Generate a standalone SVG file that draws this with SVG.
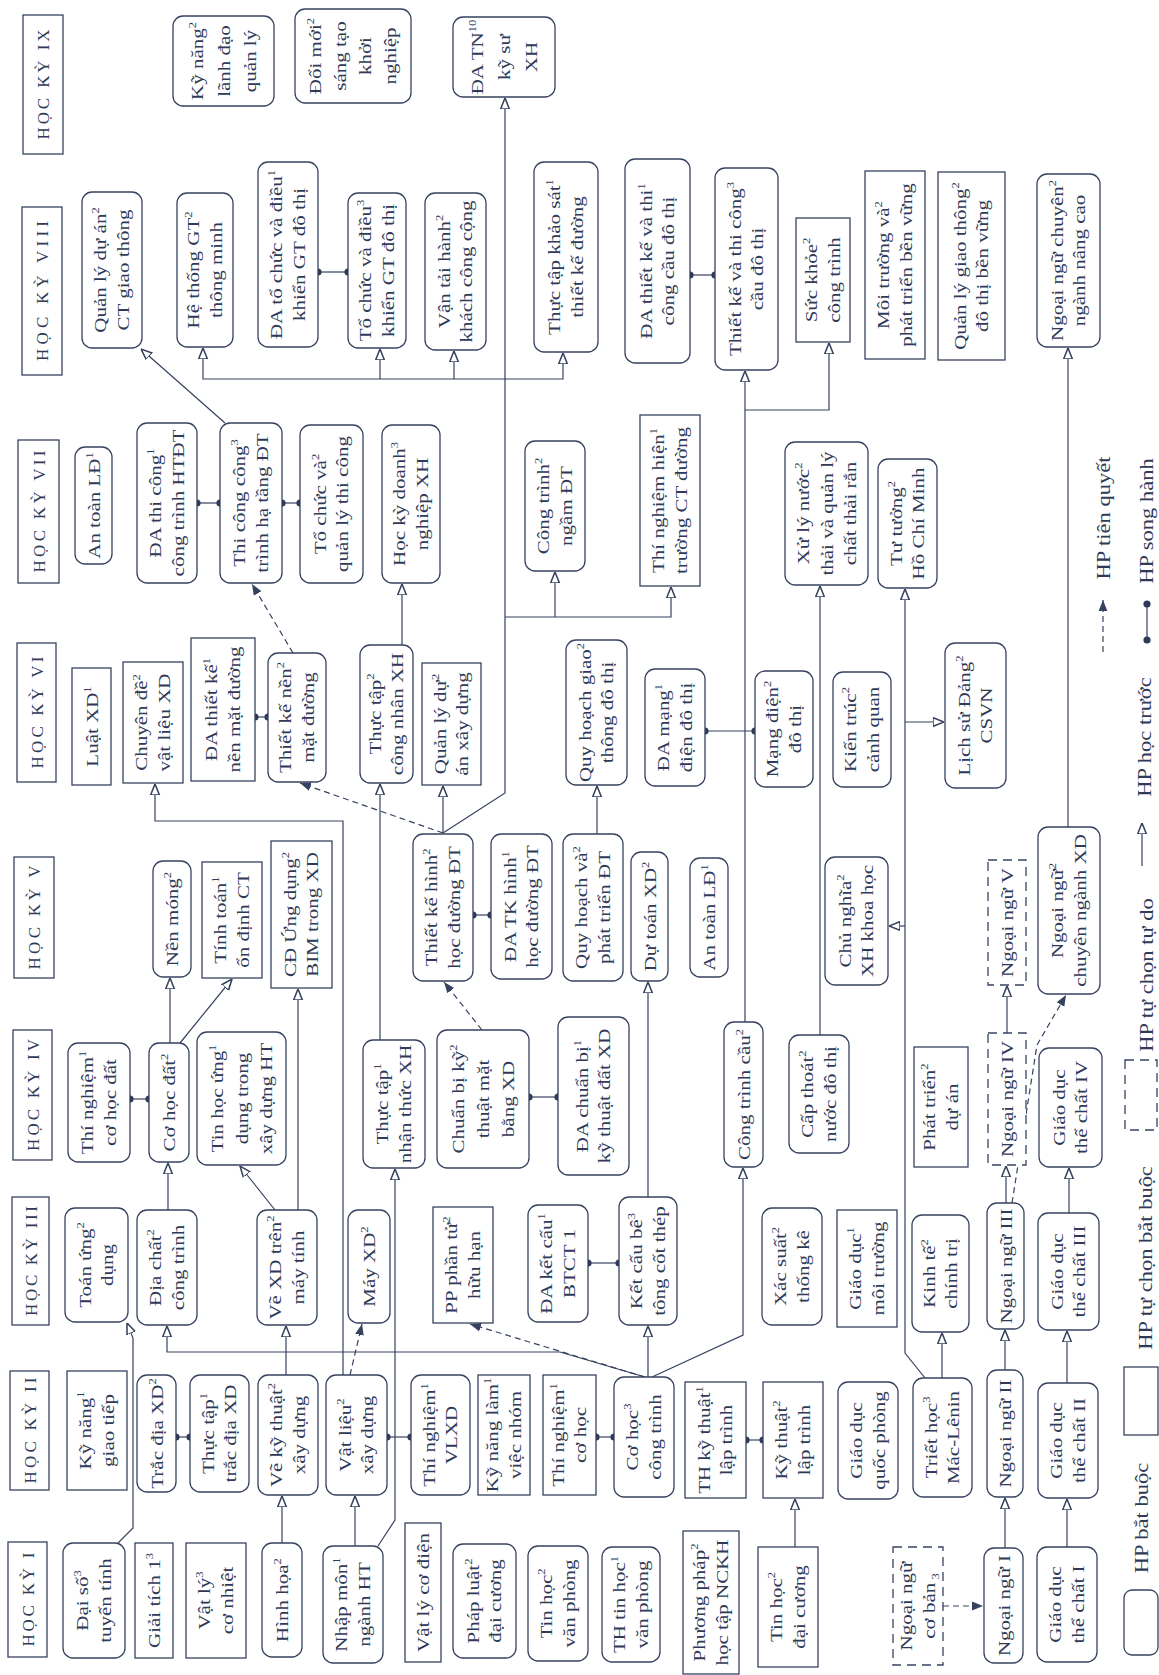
<svg xmlns="http://www.w3.org/2000/svg" width="1159" height="1675" viewBox="0 0 1159 1675">
<defs>
<style>
text{font-family:"Liberation Serif","Times New Roman",serif;font-size:17.5px;fill:#2f3a58;text-anchor:middle}
.nd rect,.hd rect,.lg rect{fill:#fff;stroke:#36425f;stroke-width:1.3}
rect.d{stroke-dasharray:9 6}
.c{font-size:10.5px}
.hd text{font-size:17px}
.lg text{font-size:18px}
.cn path,.lg path{fill:none;stroke:#36425f;stroke-width:1.2}
.p{marker-end:url(#ao)}
.q{stroke-dasharray:6 4;marker-end:url(#af)}
.s{marker-start:url(#dt);marker-end:url(#dt)}
</style>
<marker id="ao" viewBox="0 0 10 10" refX="10" refY="5" markerWidth="11" markerHeight="11" orient="auto" markerUnits="userSpaceOnUse"><path d="M0,1 L10,5 L0,9 z" fill="#fff" stroke="#36425f" stroke-width="1.4"/></marker>
<marker id="af" viewBox="0 0 10 10" refX="10" refY="5" markerWidth="11" markerHeight="11" orient="auto" markerUnits="userSpaceOnUse"><path d="M0,1 L10,5 L0,9 z" fill="#36425f"/></marker>
<marker id="dt" viewBox="0 0 10 10" refX="5" refY="5" markerWidth="8" markerHeight="8" markerUnits="userSpaceOnUse"><circle cx="5" cy="5" r="4.5" fill="#2f3a58"/></marker>
</defs>
<rect width="1159" height="1675" fill="#fff"/>

<g id="headers">
<g id="hk9" class="hd"><rect x="23" y="15" width="40" height="139"/><text transform="translate(43,84.5) rotate(-90)" x="0" y="6" textLength="110" lengthAdjust="spacing">HỌC KỲ IX</text></g>
<g id="hk8" class="hd"><rect x="22" y="207" width="40" height="168"/><text transform="translate(42,291) rotate(-90)" x="0" y="6" textLength="140" lengthAdjust="spacing">HỌC KỲ VIII</text></g>
<g id="hk7" class="hd"><rect x="18" y="440" width="41" height="143"/><text transform="translate(38.5,511.5) rotate(-90)" x="0" y="6" textLength="122" lengthAdjust="spacing">HỌC KỲ VII</text></g>
<g id="hk6" class="hd"><rect x="17" y="643" width="39" height="139"/><text transform="translate(36.5,712.5) rotate(-90)" x="0" y="6" textLength="112" lengthAdjust="spacing">HỌC KỲ VI</text></g>
<g id="hk5" class="hd"><rect x="14" y="857" width="40" height="121"/><text transform="translate(34,917.5) rotate(-90)" x="0" y="6" textLength="104" lengthAdjust="spacing">HỌC KỲ V</text></g>
<g id="hk4" class="hd"><rect x="13" y="1030" width="39" height="130"/><text transform="translate(32.5,1095) rotate(-90)" x="0" y="6" textLength="112" lengthAdjust="spacing">HỌC KỲ IV</text></g>
<g id="hk3" class="hd"><rect x="12" y="1197" width="37" height="128"/><text transform="translate(30.5,1261) rotate(-90)" x="0" y="6" textLength="110" lengthAdjust="spacing">HỌC KỲ III</text></g>
<g id="hk2" class="hd"><rect x="10" y="1371" width="39" height="119"/><text transform="translate(29.5,1430.5) rotate(-90)" x="0" y="6" textLength="106" lengthAdjust="spacing">HỌC KỲ II</text></g>
<g id="hk1" class="hd"><rect x="8" y="1542" width="39" height="115"/><text transform="translate(27.5,1599.5) rotate(-90)" x="0" y="6" textLength="94" lengthAdjust="spacing">HỌC KỲ I</text></g>
</g>

<g id="connectors" class="cn">
<path class="p" d="M443,833 L505,793 V98"/>
<path class="p" d="M505,379 H203 V348"/>
<path class="p" d="M380,379 V349"/>
<path class="p" d="M454,379 V351"/>
<path class="p" d="M505,379 H563 V353"/>
<path class="p" d="M505,617 H671 V587"/>
<path class="p" d="M555,617 V572"/>
<path class="p" d="M443,833 V786"/>
<path class="p" d="M380,1040 V784"/>
<path class="p" d="M402,645 V584"/>
<path class="p" d="M225,423 L141,349"/>
<path class="p" d="M343,1375 V821 H155 V784"/>
<path class="p" d="M378,1546 L395,1520 V1169"/>
<path class="p" d="M355,1546 V1496"/>
<path class="p" d="M282,1543 V1496"/>
<path class="p" d="M286,1375 V1326"/>
<path class="p" d="M298,1210 V989"/>
<path class="p" d="M275,1210 L240,1166"/>
<path class="p" d="M168,1210 V1163"/>
<path class="p" d="M170,1043 V978"/>
<path class="p" d="M180,1043 L232,979"/>
<path class="p" d="M645,1377 L560,1352 H167 V1326"/>
<path class="p" d="M648,1377 V1326"/>
<path class="p" d="M652,1377 L743,1335 V1168"/>
<path class="p" d="M648,1197 V982"/>
<path class="p" d="M597,834 V786"/>
<path class="p" d="M745,1022 V371"/>
<path class="p" d="M745,410 H829 V343"/>
<path class="p" d="M820,1035 V586"/>
<path class="p" d="M925,1378 L905,1353 V589"/>
<path class="p" d="M905,926 H889"/>
<path class="p" d="M905,722 H944"/>
<path class="p" d="M942,1378 V1333"/>
<path class="p" d="M1005,1548 V1498"/>
<path class="p" d="M1005,1370 V1330"/>
<path class="p" d="M1006,1203 V1166"/>
<path class="p" d="M1007,1033 V986"/>
<path class="p" d="M1068,827 V348"/>
<path class="p" d="M1067,1547 V1499"/>
<path class="p" d="M1067,1383 V1331"/>
<path class="p" d="M1069,1213 V1168"/>
<path class="p" d="M795,1547 V1499"/>
<path class="p" d="M118,1543 L133,1528 V1338 L127,1323"/>
<path class="q" d="M443,833 L300,783"/>
<path class="q" d="M293,653 L252,584"/>
<path class="q" d="M350,1375 L362,1324"/>
<path class="q" d="M645,1377 L470,1324"/>
<path class="q" d="M482,1030 L444,982"/>
<path class="q" d="M1012,1203 L1037,1045 L1066,995"/>
<path class="q" d="M943,1606 H983"/>
<path class="s" d="M318,272 H348"/>
<path class="s" d="M690,275 H715"/>
<path class="s" d="M197,503 H220"/>
<path class="s" d="M282,503 H300"/>
<path class="s" d="M255,717 H268"/>
<path class="s" d="M705,731 H755"/>
<path class="s" d="M473,915 H491"/>
<path class="s" d="M130,1099 H149"/>
<path class="s" d="M529,1097 H558"/>
<path class="s" d="M588,1263 H619"/>
<path class="s" d="M176,1437 H190"/>
<path class="s" d="M387,1437 H411"/>
<path class="s" d="M596,1437 H614"/>
<path class="s" d="M746,1440 H763"/>
</g>

<g id="nodes">
<!-- HK IX -->
<g id="n-kynang-lanhdao" class="nd"><rect x="173" y="16" width="101" height="90" rx="10"/><text transform="translate(223.5,61) rotate(-90) scale(1.2,1)"><tspan x="0" y="-21">Kỹ năng<tspan class="c" dy="-7">2</tspan></tspan><tspan x="0" y="6">lãnh đạo</tspan><tspan x="0" y="33">quản lý</tspan></text></g>
<g id="n-doimoi" class="nd"><rect x="295" y="9" width="116" height="94" rx="10"/><text transform="translate(353,56) rotate(-90) scale(1.2,1)"><tspan x="0" y="-32">Đổi mới<tspan class="c" dy="-7">2</tspan></tspan><tspan x="0" y="-7">sáng tạo</tspan><tspan x="0" y="18">khởi</tspan><tspan x="0" y="43">nghiệp</tspan></text></g>
<g id="n-datn" class="nd"><rect x="453" y="17" width="102" height="80" rx="10"/><text transform="translate(504,57) rotate(-90) scale(1.2,1)"><tspan x="0" y="-21">ĐA TN<tspan class="c" dy="-7">10</tspan></tspan><tspan x="0" y="6">kỹ sư</tspan><tspan x="0" y="33">XH</tspan></text></g>
<!-- HK VIII -->
<g id="n-qlda-ctgt" class="nd"><rect x="82" y="192" width="60" height="156" rx="10"/><text transform="translate(112,270) rotate(-90) scale(1.2,1)"><tspan x="0" y="-6">Quản lý dự án<tspan class="c" dy="-7">2</tspan></tspan><tspan x="0" y="17">CT giao thông</tspan></text></g>
<g id="n-htgt" class="nd"><rect x="177" y="193" width="56" height="154" rx="10"/><text transform="translate(205,270) rotate(-90) scale(1.2,1)"><tspan x="0" y="-6">Hệ thống GT<tspan class="c" dy="-7">2</tspan></tspan><tspan x="0" y="17">thông minh</tspan></text></g>
<g id="n-da-tcdk" class="nd"><rect x="258" y="162" width="60" height="185" rx="10"/><text transform="translate(288,254.5) rotate(-90) scale(1.2,1)"><tspan x="0" y="-6">ĐA tổ chức và điều<tspan class="c" dy="-7">1</tspan></tspan><tspan x="0" y="17">khiển GT đô thị</tspan></text></g>
<g id="n-tcdk" class="nd"><rect x="348" y="193" width="58" height="155" rx="10"/><text transform="translate(377,270.5) rotate(-90) scale(1.2,1)"><tspan x="0" y="-6">Tổ chức và điều<tspan class="c" dy="-7">3</tspan></tspan><tspan x="0" y="17">khiển GT đô thị</tspan></text></g>
<g id="n-vantai" class="nd"><rect x="425" y="193" width="61" height="157" rx="10"/><text transform="translate(455.5,271.5) rotate(-90) scale(1.2,1)"><tspan x="0" y="-6">Vận tải hành<tspan class="c" dy="-7">2</tspan></tspan><tspan x="0" y="17">khách công cộng</tspan></text></g>
<g id="n-ttks" class="nd"><rect x="534" y="162" width="64" height="190" rx="10"/><text transform="translate(566,257) rotate(-90) scale(1.2,1)"><tspan x="0" y="-6">Thực tập khảo sát<tspan class="c" dy="-7">1</tspan></tspan><tspan x="0" y="17">thiết kế đường</tspan></text></g>
<g id="n-da-cau" class="nd"><rect x="625" y="159" width="65" height="204" rx="10"/><text transform="translate(657.5,261) rotate(-90) scale(1.2,1)"><tspan x="0" y="-6">ĐA thiết kế và thi<tspan class="c" dy="-7">1</tspan></tspan><tspan x="0" y="17">công cầu đô thị</tspan></text></g>
<g id="n-tk-cau" class="nd"><rect x="715" y="168" width="63" height="202" rx="10"/><text transform="translate(746.5,269) rotate(-90) scale(1.2,1)"><tspan x="0" y="-6">Thiết kế và thi công<tspan class="c" dy="-7">3</tspan></tspan><tspan x="0" y="17">cầu đô thị</tspan></text></g>
<g id="n-suckhoe" class="nd"><rect x="796" y="218" width="54" height="124"/><text transform="translate(823,280) rotate(-90) scale(1.2,1)"><tspan x="0" y="-6">Sức khỏe<tspan class="c" dy="-7">2</tspan></tspan><tspan x="0" y="17">công trình</tspan></text></g>
<g id="n-moitruong" class="nd"><rect x="865" y="171" width="60" height="188"/><text transform="translate(895,265) rotate(-90) scale(1.2,1)"><tspan x="0" y="-6">Môi trường và<tspan class="c" dy="-7">2</tspan></tspan><tspan x="0" y="17">phát triển bền vững</tspan></text></g>
<g id="n-qlgt" class="nd"><rect x="938" y="172" width="67" height="188"/><text transform="translate(971.5,266) rotate(-90) scale(1.2,1)"><tspan x="0" y="-6">Quản lý giao thông<tspan class="c" dy="-7">2</tspan></tspan><tspan x="0" y="17">đô thị bền vững</tspan></text></g>
<g id="n-nncn-nc" class="nd"><rect x="1037" y="174" width="63" height="173" rx="10"/><text transform="translate(1068.5,260.5) rotate(-90) scale(1.2,1)"><tspan x="0" y="-6">Ngoại ngữ chuyên<tspan class="c" dy="-7">2</tspan></tspan><tspan x="0" y="17">ngành nâng cao</tspan></text></g>
<!-- HK VII -->
<g id="n-atld7" class="nd"><rect x="75" y="447" width="37" height="117" rx="10"/><text transform="translate(93.5,505.5) rotate(-90) scale(1.2,1)"><tspan x="0" y="6">An toàn LĐ<tspan class="c" dy="-7">1</tspan></tspan></text></g>
<g id="n-da-tcht" class="nd"><rect x="137" y="423" width="60" height="160" rx="10"/><text transform="translate(167,503) rotate(-90) scale(1.2,1)"><tspan x="0" y="-6">ĐA thi công<tspan class="c" dy="-7">1</tspan></tspan><tspan x="0" y="17">công trình HTĐT</tspan></text></g>
<g id="n-tcht" class="nd"><rect x="220" y="423" width="62" height="160" rx="10"/><text transform="translate(251,503) rotate(-90) scale(1.2,1)"><tspan x="0" y="-6">Thi công công<tspan class="c" dy="-7">3</tspan></tspan><tspan x="0" y="17">trình hạ tầng ĐT</tspan></text></g>
<g id="n-tcql" class="nd"><rect x="300" y="425" width="63" height="158" rx="10"/><text transform="translate(331.5,504) rotate(-90) scale(1.2,1)"><tspan x="0" y="-6">Tổ chức và<tspan class="c" dy="-7">2</tspan></tspan><tspan x="0" y="17">quản lý thi công</tspan></text></g>
<g id="n-hkdn" class="nd"><rect x="382" y="425" width="58" height="158" rx="10"/><text transform="translate(411,504) rotate(-90) scale(1.2,1)"><tspan x="0" y="-6">Học kỳ doanh<tspan class="c" dy="-7">3</tspan></tspan><tspan x="0" y="17">nghiệp XH</tspan></text></g>
<g id="n-ctngam" class="nd"><rect x="525" y="441" width="60" height="130" rx="10"/><text transform="translate(555,506) rotate(-90) scale(1.2,1)"><tspan x="0" y="-6">Công trình<tspan class="c" dy="-7">2</tspan></tspan><tspan x="0" y="17">ngầm ĐT</tspan></text></g>
<g id="n-tnht" class="nd"><rect x="640" y="415" width="60" height="171"/><text transform="translate(670,500.5) rotate(-90) scale(1.2,1)"><tspan x="0" y="-6">Thí nghiệm hiện<tspan class="c" dy="-7">1</tspan></tspan><tspan x="0" y="17">trường CT đường</tspan></text></g>
<g id="n-xlnt" class="nd"><rect x="785" y="442" width="83" height="143" rx="10"/><text transform="translate(826.5,513.5) rotate(-90) scale(1.2,1)"><tspan x="0" y="-18">Xử lý nước<tspan class="c" dy="-7">2</tspan></tspan><tspan x="0" y="6">thải và quản lý</tspan><tspan x="0" y="30">chất thải rắn</tspan></text></g>
<g id="n-tthcm" class="nd"><rect x="878" y="459" width="59" height="129" rx="10"/><text transform="translate(907.5,523.5) rotate(-90) scale(1.2,1)"><tspan x="0" y="-6">Tư tưởng<tspan class="c" dy="-7">2</tspan></tspan><tspan x="0" y="17">Hồ Chí Minh</tspan></text></g>
<!-- HK VI -->
<g id="n-luat" class="nd"><rect x="72" y="668" width="39" height="117"/><text transform="translate(91.5,726.5) rotate(-90) scale(1.2,1)"><tspan x="0" y="6">Luật XD<tspan class="c" dy="-7">1</tspan></tspan></text></g>
<g id="n-cdvl" class="nd"><rect x="123" y="662" width="60" height="121"/><text transform="translate(153,722.5) rotate(-90) scale(1.2,1)"><tspan x="0" y="-6">Chuyên đề<tspan class="c" dy="-7">2</tspan></tspan><tspan x="0" y="17">vật liệu XD</tspan></text></g>
<g id="n-da-nmd" class="nd"><rect x="191" y="638" width="64" height="143"/><text transform="translate(223,709.5) rotate(-90) scale(1.2,1)"><tspan x="0" y="-6">ĐA thiết kế<tspan class="c" dy="-7">1</tspan></tspan><tspan x="0" y="17">nền mặt đường</tspan></text></g>
<g id="n-tknmd" class="nd"><rect x="268" y="653" width="58" height="129" rx="10"/><text transform="translate(297,717.5) rotate(-90) scale(1.2,1)"><tspan x="0" y="-6">Thiết kế nền<tspan class="c" dy="-7">2</tspan></tspan><tspan x="0" y="17">mặt đường</tspan></text></g>
<g id="n-ttcn" class="nd"><rect x="360" y="645" width="53" height="138" rx="10"/><text transform="translate(386.5,714) rotate(-90) scale(1.2,1)"><tspan x="0" y="-6">Thực tập<tspan class="c" dy="-7">2</tspan></tspan><tspan x="0" y="17">công nhân XH</tspan></text></g>
<g id="n-qldaxd" class="nd"><rect x="422" y="663" width="59" height="122"/><text transform="translate(451.5,724) rotate(-90) scale(1.2,1)"><tspan x="0" y="-6">Quản lý dự<tspan class="c" dy="-7">2</tspan></tspan><tspan x="0" y="17">án xây dựng</tspan></text></g>
<g id="n-qhgt" class="nd"><rect x="566" y="640" width="61" height="145" rx="10"/><text transform="translate(596.5,712.5) rotate(-90) scale(1.2,1)"><tspan x="0" y="-6">Quy hoạch giao<tspan class="c" dy="-7">2</tspan></tspan><tspan x="0" y="17">thông đô thị</tspan></text></g>
<g id="n-da-md" class="nd"><rect x="645" y="669" width="60" height="117" rx="10"/><text transform="translate(675,727.5) rotate(-90) scale(1.2,1)"><tspan x="0" y="-6">ĐA mạng<tspan class="c" dy="-7">1</tspan></tspan><tspan x="0" y="17">điện đô thị</tspan></text></g>
<g id="n-md" class="nd"><rect x="755" y="671" width="58" height="116" rx="10"/><text transform="translate(784,729) rotate(-90) scale(1.2,1)"><tspan x="0" y="-6">Mạng điện<tspan class="c" dy="-7">2</tspan></tspan><tspan x="0" y="17">đô thị</tspan></text></g>
<g id="n-ktcq" class="nd"><rect x="833" y="672" width="58" height="115" rx="10"/><text transform="translate(862,729.5) rotate(-90) scale(1.2,1)"><tspan x="0" y="-6">Kiến trúc<tspan class="c" dy="-7">2</tspan></tspan><tspan x="0" y="17">cảnh quan</tspan></text></g>
<g id="n-lsd" class="nd"><rect x="945" y="643" width="61" height="145" rx="10"/><text transform="translate(975.5,715.5) rotate(-90) scale(1.2,1)"><tspan x="0" y="-6">Lịch sử Đảng<tspan class="c" dy="-7">2</tspan></tspan><tspan x="0" y="17">CSVN</tspan></text></g>
<!-- HK V -->
<g id="n-nenmong" class="nd"><rect x="153" y="861" width="38" height="116" rx="10"/><text transform="translate(172,919) rotate(-90) scale(1.2,1)"><tspan x="0" y="6">Nền móng<tspan class="c" dy="-7">2</tspan></tspan></text></g>
<g id="n-ttod" class="nd"><rect x="202" y="862" width="60" height="116"/><text transform="translate(232,920) rotate(-90) scale(1.2,1)"><tspan x="0" y="-6">Tính toán<tspan class="c" dy="-7">1</tspan></tspan><tspan x="0" y="17">ổn định CT</tspan></text></g>
<g id="n-bim" class="nd"><rect x="271" y="841" width="61" height="147"/><text transform="translate(301.5,914.5) rotate(-90) scale(1.2,1)"><tspan x="0" y="-6">CĐ Ứng dụng<tspan class="c" dy="-7">2</tspan></tspan><tspan x="0" y="17">BIM trong XD</tspan></text></g>
<g id="n-tkhh" class="nd"><rect x="413" y="834" width="60" height="147" rx="10"/><text transform="translate(443,907.5) rotate(-90) scale(1.2,1)"><tspan x="0" y="-6">Thiết kế hình<tspan class="c" dy="-7">2</tspan></tspan><tspan x="0" y="17">học đường ĐT</tspan></text></g>
<g id="n-da-tkhh" class="nd"><rect x="491" y="834" width="61" height="145" rx="10"/><text transform="translate(521.5,906.5) rotate(-90) scale(1.2,1)"><tspan x="0" y="-6">ĐA TK hình<tspan class="c" dy="-7">1</tspan></tspan><tspan x="0" y="17">học đường ĐT</tspan></text></g>
<g id="n-qhpt" class="nd"><rect x="563" y="834" width="60" height="147" rx="10"/><text transform="translate(593,907.5) rotate(-90) scale(1.2,1)"><tspan x="0" y="-6">Quy hoạch và<tspan class="c" dy="-7">2</tspan></tspan><tspan x="0" y="17">phát triển ĐT</tspan></text></g>
<g id="n-dutoan" class="nd"><rect x="631" y="852" width="37" height="129" rx="10"/><text transform="translate(649.5,916.5) rotate(-90) scale(1.2,1)"><tspan x="0" y="6">Dự toán XD<tspan class="c" dy="-7">2</tspan></tspan></text></g>
<g id="n-atld5" class="nd"><rect x="690" y="858" width="38" height="119" rx="10"/><text transform="translate(709,917.5) rotate(-90) scale(1.2,1)"><tspan x="0" y="6">An toàn LĐ<tspan class="c" dy="-7">1</tspan></tspan></text></g>
<g id="n-cnxh" class="nd"><rect x="825" y="857" width="63" height="128" rx="10"/><text transform="translate(856.5,921) rotate(-90) scale(1.2,1)"><tspan x="0" y="-6">Chủ nghĩa<tspan class="c" dy="-7">2</tspan></tspan><tspan x="0" y="17">XH khoa học</tspan></text></g>
<g id="n-nn5" class="nd"><rect class="d" x="988" y="860" width="38" height="125"/><text transform="translate(1007,922.5) rotate(-90) scale(1.2,1)"><tspan x="0" y="6">Ngoại ngữ V</tspan></text></g>
<g id="n-nncn" class="nd"><rect x="1038" y="827" width="62" height="167" rx="10"/><text transform="translate(1069,910.5) rotate(-90) scale(1.2,1)"><tspan x="0" y="-6">Ngoại ngữ<tspan class="c" dy="-7">2</tspan></tspan><tspan x="0" y="17">chuyên ngành XD</tspan></text></g>
<!-- HK IV -->
<g id="n-tncd" class="nd"><rect x="68" y="1043" width="62" height="119" rx="10"/><text transform="translate(99,1102.5) rotate(-90) scale(1.2,1)"><tspan x="0" y="-6">Thí nghiệm<tspan class="c" dy="-7">1</tspan></tspan><tspan x="0" y="17">cơ học đất</tspan></text></g>
<g id="n-chd" class="nd"><rect x="149" y="1043" width="40" height="119" rx="10"/><text transform="translate(169,1102.5) rotate(-90) scale(1.2,1)"><tspan x="0" y="6">Cơ học đất<tspan class="c" dy="-7">2</tspan></tspan></text></g>
<g id="n-thud" class="nd"><rect x="197" y="1032" width="89" height="133" rx="10"/><text transform="translate(241.5,1098.5) rotate(-90) scale(1.2,1)"><tspan x="0" y="-19">Tin học ứng<tspan class="c" dy="-7">1</tspan></tspan><tspan x="0" y="6">dụng trong</tspan><tspan x="0" y="31">xây dựng HT</tspan></text></g>
<g id="n-ttnt" class="nd"><rect x="363" y="1040" width="62" height="128" rx="10"/><text transform="translate(394,1104) rotate(-90) scale(1.2,1)"><tspan x="0" y="-6">Thực tập<tspan class="c" dy="-7">1</tspan></tspan><tspan x="0" y="17">nhận thức XH</tspan></text></g>
<g id="n-cbkt" class="nd"><rect x="437" y="1030" width="92" height="138" rx="10"/><text transform="translate(483,1099) rotate(-90) scale(1.2,1)"><tspan x="0" y="-19">Chuẩn bị kỹ<tspan class="c" dy="-7">2</tspan></tspan><tspan x="0" y="6">thuật mặt</tspan><tspan x="0" y="31">bằng XD</tspan></text></g>
<g id="n-da-cbkt" class="nd"><rect x="558" y="1017" width="71" height="158" rx="10"/><text transform="translate(593.5,1096) rotate(-90) scale(1.2,1)"><tspan x="0" y="-6">ĐA chuẩn bị<tspan class="c" dy="-7">1</tspan></tspan><tspan x="0" y="17">kỹ thuật đất XD</tspan></text></g>
<g id="n-ctcau" class="nd"><rect x="724" y="1022" width="39" height="145" rx="10"/><text transform="translate(743.5,1094.5) rotate(-90) scale(1.2,1)"><tspan x="0" y="6">Công trình cầu<tspan class="c" dy="-7">2</tspan></tspan></text></g>
<g id="n-ctn" class="nd"><rect x="789" y="1035" width="60" height="118" rx="10"/><text transform="translate(819,1094) rotate(-90) scale(1.2,1)"><tspan x="0" y="-6">Cấp thoát<tspan class="c" dy="-7">2</tspan></tspan><tspan x="0" y="17">nước đô thị</tspan></text></g>
<g id="n-ptda" class="nd"><rect x="914" y="1047" width="54" height="120"/><text transform="translate(941,1107) rotate(-90) scale(1.2,1)"><tspan x="0" y="-6">Phát triển<tspan class="c" dy="-7">2</tspan></tspan><tspan x="0" y="17">dự án</tspan></text></g>
<g id="n-nn4" class="nd"><rect class="d" x="988" y="1033" width="38" height="132"/><text transform="translate(1007,1099) rotate(-90) scale(1.2,1)"><tspan x="0" y="6">Ngoại ngữ IV</tspan></text></g>
<g id="n-gdtc4" class="nd"><rect x="1039" y="1048" width="63" height="119" rx="10"/><text transform="translate(1070.5,1107.5) rotate(-90) scale(1.2,1)"><tspan x="0" y="-6">Giáo dục</tspan><tspan x="0" y="17">thể chất IV</tspan></text></g>
<!-- HK III -->
<g id="n-toanud" class="nd"><rect x="65" y="1208" width="63" height="114" rx="10"/><text transform="translate(96.5,1265) rotate(-90) scale(1.2,1)"><tspan x="0" y="-6">Toán ứng<tspan class="c" dy="-7">2</tspan></tspan><tspan x="0" y="17">dụng</tspan></text></g>
<g id="n-dcct" class="nd"><rect x="137" y="1210" width="60" height="115" rx="10"/><text transform="translate(167,1267.5) rotate(-90) scale(1.2,1)"><tspan x="0" y="-6">Địa chất<tspan class="c" dy="-7">2</tspan></tspan><tspan x="0" y="17">công trình</tspan></text></g>
<g id="n-vxdmt" class="nd"><rect x="257" y="1210" width="60" height="115" rx="10"/><text transform="translate(287,1267.5) rotate(-90) scale(1.2,1)"><tspan x="0" y="-6">Vẽ XD trên<tspan class="c" dy="-7">2</tspan></tspan><tspan x="0" y="17">máy tính</tspan></text></g>
<g id="n-mayxd" class="nd"><rect x="348" y="1210" width="42" height="113" rx="10"/><text transform="translate(369,1266.5) rotate(-90) scale(1.2,1)"><tspan x="0" y="6">Máy XD<tspan class="c" dy="-7">2</tspan></tspan></text></g>
<g id="n-ppptht" class="nd"><rect x="433" y="1207" width="60" height="116"/><text transform="translate(463,1265) rotate(-90) scale(1.2,1)"><tspan x="0" y="-6">PP phần tử<tspan class="c" dy="-7">2</tspan></tspan><tspan x="0" y="17">hữu hạn</tspan></text></g>
<g id="n-da-kc" class="nd"><rect x="528" y="1205" width="60" height="117" rx="10"/><text transform="translate(558,1263.5) rotate(-90) scale(1.2,1)"><tspan x="0" y="-6">ĐA kết cấu<tspan class="c" dy="-7">1</tspan></tspan><tspan x="0" y="17">BTCT 1</tspan></text></g>
<g id="n-kc" class="nd"><rect x="619" y="1197" width="58" height="128" rx="10"/><text transform="translate(648,1261) rotate(-90) scale(1.2,1)"><tspan x="0" y="-6">Kết cấu bê<tspan class="c" dy="-7">3</tspan></tspan><tspan x="0" y="17">tông cốt thép</tspan></text></g>
<g id="n-xstk" class="nd"><rect x="762" y="1208" width="60" height="117" rx="10"/><text transform="translate(792,1266.5) rotate(-90) scale(1.2,1)"><tspan x="0" y="-6">Xác suất<tspan class="c" dy="-7">2</tspan></tspan><tspan x="0" y="17">thống kê</tspan></text></g>
<g id="n-gdmt" class="nd"><rect x="837" y="1210" width="60" height="117"/><text transform="translate(867,1268.5) rotate(-90) scale(1.2,1)"><tspan x="0" y="-6">Giáo dục<tspan class="c" dy="-7">1</tspan></tspan><tspan x="0" y="17">môi trường</tspan></text></g>
<g id="n-ktct" class="nd"><rect x="912" y="1215" width="57" height="117" rx="10"/><text transform="translate(940.5,1273.5) rotate(-90) scale(1.2,1)"><tspan x="0" y="-6">Kinh tế<tspan class="c" dy="-7">2</tspan></tspan><tspan x="0" y="17">chính trị</tspan></text></g>
<g id="n-nn3" class="nd"><rect x="987" y="1203" width="37" height="126" rx="10"/><text transform="translate(1005.5,1266) rotate(-90) scale(1.2,1)"><tspan x="0" y="6">Ngoại ngữ III</tspan></text></g>
<g id="n-gdtc3" class="nd"><rect x="1038" y="1213" width="61" height="117" rx="10"/><text transform="translate(1068.5,1271.5) rotate(-90) scale(1.2,1)"><tspan x="0" y="-6">Giáo dục</tspan><tspan x="0" y="17">thể chất III</tspan></text></g>
<!-- HK II -->
<g id="n-kngt" class="nd"><rect x="67" y="1371" width="60" height="119"/><text transform="translate(97,1430.5) rotate(-90) scale(1.2,1)"><tspan x="0" y="-6">Kỹ năng<tspan class="c" dy="-7">1</tspan></tspan><tspan x="0" y="17">giao tiếp</tspan></text></g>
<g id="n-tdxd" class="nd"><rect x="137" y="1375" width="39" height="117" rx="10"/><text transform="translate(156.5,1433.5) rotate(-90) scale(1.2,1)"><tspan x="0" y="6">Trắc địa XD<tspan class="c" dy="-7">2</tspan></tspan></text></g>
<g id="n-tttd" class="nd"><rect x="190" y="1375" width="59" height="117" rx="10"/><text transform="translate(219.5,1433.5) rotate(-90) scale(1.2,1)"><tspan x="0" y="-6">Thực tập<tspan class="c" dy="-7">1</tspan></tspan><tspan x="0" y="17">trắc địa XD</tspan></text></g>
<g id="n-vkt" class="nd"><rect x="258" y="1375" width="60" height="120" rx="10"/><text transform="translate(288,1435) rotate(-90) scale(1.2,1)"><tspan x="0" y="-6">Vẽ kỹ thuật<tspan class="c" dy="-7">2</tspan></tspan><tspan x="0" y="17">xây dựng</tspan></text></g>
<g id="n-vlxd" class="nd"><rect x="326" y="1375" width="61" height="120" rx="10"/><text transform="translate(356.5,1435) rotate(-90) scale(1.2,1)"><tspan x="0" y="-6">Vật liệu<tspan class="c" dy="-7">2</tspan></tspan><tspan x="0" y="17">xây dựng</tspan></text></g>
<g id="n-tnvl" class="nd"><rect x="411" y="1375" width="59" height="120" rx="10"/><text transform="translate(440.5,1435) rotate(-90) scale(1.2,1)"><tspan x="0" y="-6">Thí nghiệm<tspan class="c" dy="-7">1</tspan></tspan><tspan x="0" y="17">VLXD</tspan></text></g>
<g id="n-knlvn" class="nd"><rect x="478" y="1375" width="52" height="120"/><text transform="translate(504,1435) rotate(-90) scale(1.2,1)"><tspan x="0" y="-6">Kỹ năng làm<tspan class="c" dy="-7">1</tspan></tspan><tspan x="0" y="17">việc nhóm</tspan></text></g>
<g id="n-tnch" class="nd"><rect x="543" y="1375" width="53" height="120"/><text transform="translate(569.5,1435) rotate(-90) scale(1.2,1)"><tspan x="0" y="-6">Thí nghiệm<tspan class="c" dy="-7">1</tspan></tspan><tspan x="0" y="17">cơ học</tspan></text></g>
<g id="n-chct" class="nd"><rect x="614" y="1377" width="60" height="120" rx="10"/><text transform="translate(644,1437) rotate(-90) scale(1.2,1)"><tspan x="0" y="-6">Cơ học<tspan class="c" dy="-7">3</tspan></tspan><tspan x="0" y="17">công trình</tspan></text></g>
<g id="n-thktlt" class="nd"><rect x="685" y="1382" width="61" height="116"/><text transform="translate(715.5,1440) rotate(-90) scale(1.2,1)"><tspan x="0" y="-6">TH kỹ thuật<tspan class="c" dy="-7">1</tspan></tspan><tspan x="0" y="17">lập trình</tspan></text></g>
<g id="n-ktlt" class="nd"><rect x="763" y="1382" width="60" height="116"/><text transform="translate(793,1440) rotate(-90) scale(1.2,1)"><tspan x="0" y="-6">Kỹ thuật<tspan class="c" dy="-7">2</tspan></tspan><tspan x="0" y="17">lập trình</tspan></text></g>
<g id="n-gdqp" class="nd"><rect x="838" y="1382" width="60" height="117" rx="10"/><text transform="translate(868,1440.5) rotate(-90) scale(1.2,1)"><tspan x="0" y="-6">Giáo dục</tspan><tspan x="0" y="17">quốc phòng</tspan></text></g>
<g id="n-triet" class="nd"><rect x="913" y="1378" width="59" height="119" rx="10"/><text transform="translate(942.5,1437.5) rotate(-90) scale(1.2,1)"><tspan x="0" y="-6">Triết học<tspan class="c" dy="-7">3</tspan></tspan><tspan x="0" y="17">Mác-Lênin</tspan></text></g>
<g id="n-nn2" class="nd"><rect x="987" y="1370" width="36" height="127" rx="10"/><text transform="translate(1005,1433.5) rotate(-90) scale(1.2,1)"><tspan x="0" y="6">Ngoại ngữ II</tspan></text></g>
<g id="n-gdtc2" class="nd"><rect x="1038" y="1383" width="60" height="115" rx="10"/><text transform="translate(1068,1440.5) rotate(-90) scale(1.2,1)"><tspan x="0" y="-6">Giáo dục</tspan><tspan x="0" y="17">thể chất II</tspan></text></g>
<!-- HK I -->
<g id="n-dstt" class="nd"><rect x="63" y="1543" width="62" height="115" rx="10"/><text transform="translate(94,1600.5) rotate(-90) scale(1.2,1)"><tspan x="0" y="-6">Đại số<tspan class="c" dy="-7">3</tspan></tspan><tspan x="0" y="17">tuyến tính</tspan></text></g>
<g id="n-gt1" class="nd"><rect x="135" y="1543" width="38" height="115"/><text transform="translate(154,1600.5) rotate(-90) scale(1.2,1)"><tspan x="0" y="6">Giải tích 1<tspan class="c" dy="-7">3</tspan></tspan></text></g>
<g id="n-vlcn" class="nd"><rect x="186" y="1543" width="60" height="115"/><text transform="translate(216,1600.5) rotate(-90) scale(1.2,1)"><tspan x="0" y="-6">Vật lý<tspan class="c" dy="-7">3</tspan></tspan><tspan x="0" y="17">cơ nhiệt</tspan></text></g>
<g id="n-hinhhoa" class="nd"><rect x="262" y="1543" width="40" height="114" rx="10"/><text transform="translate(282,1600) rotate(-90) scale(1.2,1)"><tspan x="0" y="6">Hình họa<tspan class="c" dy="-7">2</tspan></tspan></text></g>
<g id="n-nhapmon" class="nd"><rect x="323" y="1546" width="60" height="117" rx="10"/><text transform="translate(353,1604.5) rotate(-90) scale(1.2,1)"><tspan x="0" y="-6">Nhập môn<tspan class="c" dy="-7">1</tspan></tspan><tspan x="0" y="17">ngành HT</tspan></text></g>
<g id="n-vlcd" class="nd"><rect x="405" y="1523" width="36" height="139"/><text transform="translate(423,1592.5) rotate(-90) scale(1.2,1)"><tspan x="0" y="6">Vật lý cơ điện</tspan></text></g>
<g id="n-pldc" class="nd"><rect x="453" y="1544" width="63" height="114" rx="10"/><text transform="translate(484.5,1601) rotate(-90) scale(1.2,1)"><tspan x="0" y="-6">Pháp luật<tspan class="c" dy="-7">2</tspan></tspan><tspan x="0" y="17">đại cương</tspan></text></g>
<g id="n-thvp" class="nd"><rect x="528" y="1546" width="60" height="115" rx="10"/><text transform="translate(558,1603.5) rotate(-90) scale(1.2,1)"><tspan x="0" y="-6">Tin học<tspan class="c" dy="-7">2</tspan></tspan><tspan x="0" y="17">văn phòng</tspan></text></g>
<g id="n-ththvp" class="nd"><rect x="602" y="1547" width="58" height="115" rx="10"/><text transform="translate(631,1604.5) rotate(-90) scale(1.2,1)"><tspan x="0" y="-6">TH tin học<tspan class="c" dy="-7">1</tspan></tspan><tspan x="0" y="17">văn phòng</tspan></text></g>
<g id="n-pphtnckh" class="nd"><rect x="683" y="1531" width="56" height="143"/><text transform="translate(711,1602.5) rotate(-90) scale(1.2,1)"><tspan x="0" y="-6">Phương pháp<tspan class="c" dy="-7">2</tspan></tspan><tspan x="0" y="17">học tập NCKH</tspan></text></g>
<g id="n-thdc" class="nd"><rect x="758" y="1547" width="60" height="120"/><text transform="translate(788,1607) rotate(-90) scale(1.2,1)"><tspan x="0" y="-6">Tin học<tspan class="c" dy="-7">2</tspan></tspan><tspan x="0" y="17">đại cương</tspan></text></g>
<g id="n-nncb" class="nd"><rect class="d" x="893" y="1547" width="50" height="118"/><text transform="translate(918,1606) rotate(-90) scale(1.2,1)"><tspan x="0" y="-6">Ngoại ngữ</tspan><tspan x="0" y="17">cơ bản<tspan class="c" dy="4"> 3</tspan></tspan></text></g>
<g id="n-nn1" class="nd"><rect x="984" y="1548" width="39" height="115" rx="10"/><text transform="translate(1003.5,1605.5) rotate(-90) scale(1.2,1)"><tspan x="0" y="6">Ngoại ngữ I</tspan></text></g>
<g id="n-gdtc1" class="nd"><rect x="1037" y="1547" width="60" height="115" rx="10"/><text transform="translate(1067,1604.5) rotate(-90) scale(1.2,1)"><tspan x="0" y="-6">Giáo dục</tspan><tspan x="0" y="17">thể chất I</tspan></text></g>
</g>

<g id="legend" class="lg">
<path class="q" d="M1103,652 V600"/>
<text transform="translate(1104,518) rotate(-90) scale(1.25,1)" x="0" y="6">HP tiên quyết</text>
<path class="s" d="M1147,640 V604"/>
<text transform="translate(1147,521) rotate(-90) scale(1.25,1)" x="0" y="6">HP song hành</text>
<path class="p" d="M1142,866 V823"/>
<text transform="translate(1145,737) rotate(-90) scale(1.25,1)" x="0" y="6">HP học trước</text>
<text transform="translate(1147,975) rotate(-90) scale(1.25,1)" x="0" y="6">HP tự chọn tự do</text>
<rect class="d" x="1125" y="1060" width="32" height="70"/>
<text transform="translate(1146,1258) rotate(-90) scale(1.25,1)" x="0" y="6">HP tự chọn bắt buộc</text>
<rect x="1124" y="1367" width="34" height="68"/>
<text transform="translate(1142,1518) rotate(-90) scale(1.25,1)" x="0" y="6">HP bắt buộc</text>
<rect x="1124" y="1590" width="34" height="65" rx="8"/>
</g>
</svg>
